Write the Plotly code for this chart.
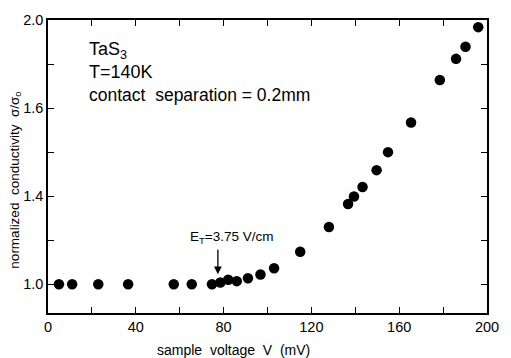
import plotly.graph_objects as go

# sample voltage V (mV)
voltage = [5.0, 11.0, 22.9, 36.5, 57.3, 65.5, 74.7, 78.5, 82.1, 86.0, 91.1, 96.8,
           103.0, 114.9, 128.0, 136.7, 139.4, 143.3, 149.7, 154.9, 165.4, 178.5,
           185.9, 190.2, 196.0]
# normalized conductivity (in the figure's linear plotting units)
conductivity = [1.0, 1.0, 1.0, 1.0, 1.0, 1.0, 1.0, 1.007, 1.017, 1.012, 1.023, 1.037,
                1.061, 1.123, 1.217, 1.304, 1.332, 1.368, 1.432, 1.500, 1.612, 1.773,
                1.853, 1.899, 1.973]

x_tickvals = [0, 20, 40, 60, 80, 100, 120, 140, 160, 180, 200]
x_ticktext = ["0", " ", "40", " ", "80", " ", "120", " ", "160", " ", "200"]
y_tickvals = [1.0, 1 + 1/6, 1 + 2/6, 1 + 3/6, 1 + 4/6, 1 + 5/6, 2.0]
y_ticktext = ["1.0", " ", "1.4", " ", "1.6", " ", "2.0"]

FONT = "Liberation Sans"

fig = go.Figure()
fig.add_trace(go.Scatter(
    x=voltage, y=conductivity, mode="markers",
    marker=dict(color="black", size=10.5, line=dict(width=0)),
    showlegend=False, hoverinfo="skip"))

axis_common = dict(
    showgrid=False, zeroline=False, showline=True, linecolor="black", linewidth=1.6,
    mirror="ticks", ticks="inside", ticklen=6, tickwidth=1.4, tickcolor="black",
    tickfont=dict(family=FONT, size=14.5, color="black"))

fig.update_xaxes(range=[0, 200], tickmode="array", tickvals=x_tickvals,
                 ticktext=x_ticktext, **axis_common)
fig.update_yaxes(range=[0.8915, 2.0], tickmode="array", tickvals=y_tickvals,
                 ticktext=y_ticktext, **axis_common)

annos = [
    dict(x=17.8, y=1.883, xref="x", yref="y", xanchor="left", yanchor="middle",
         text="TaS<sub>3</sub>", showarrow=False, font=dict(family=FONT, size=18)),
    dict(x=17.8, y=1.803, xref="x", yref="y", xanchor="left", yanchor="middle",
         text="T=140K", showarrow=False, font=dict(family=FONT, size=18)),
    dict(x=17.8, y=1.716, xref="x", yref="y", xanchor="left", yanchor="middle",
         text="contact\u00a0 separation = 0.2mm", showarrow=False,
         font=dict(family=FONT, size=17.5)),
    dict(x=83.7, y=1.179, xref="x", yref="y", xanchor="center", yanchor="middle",
         text="E<sub>T</sub>=3.75 V/cm", showarrow=False,
         font=dict(family=FONT, size=13.5)),
    dict(x=77.4, y=1.038, xref="x", yref="y", text="", showarrow=True,
         ax=0, ay=-26, arrowhead=2, arrowsize=1.2, arrowwidth=1.3, arrowcolor="black"),
    dict(x=0.423, y=-0.125, xref="paper", yref="paper", xanchor="center",
         yanchor="middle", text="sample\u00a0 voltage\u00a0 V\u00a0 (mV)",
         showarrow=False, font=dict(family=FONT, size=14)),
    dict(x=-0.075, y=0.452, xref="paper", yref="paper", xanchor="center",
         yanchor="middle", textangle=-90,
         text="normalized\u00a0 conductivity\u00a0 σ/σ<sub>o</sub>",
         showarrow=False, font=dict(family=FONT, size=13.5)),
]
fig.update_layout(
    width=511, height=358, margin=dict(l=48, r=14, t=14, b=45),
    paper_bgcolor="white", plot_bgcolor="white", annotations=annos,
    font=dict(family=FONT, color="black"))

fig.write_html("out.html", config={"displayModeBar": False},
               post_script="document.body.style.margin='0';")
